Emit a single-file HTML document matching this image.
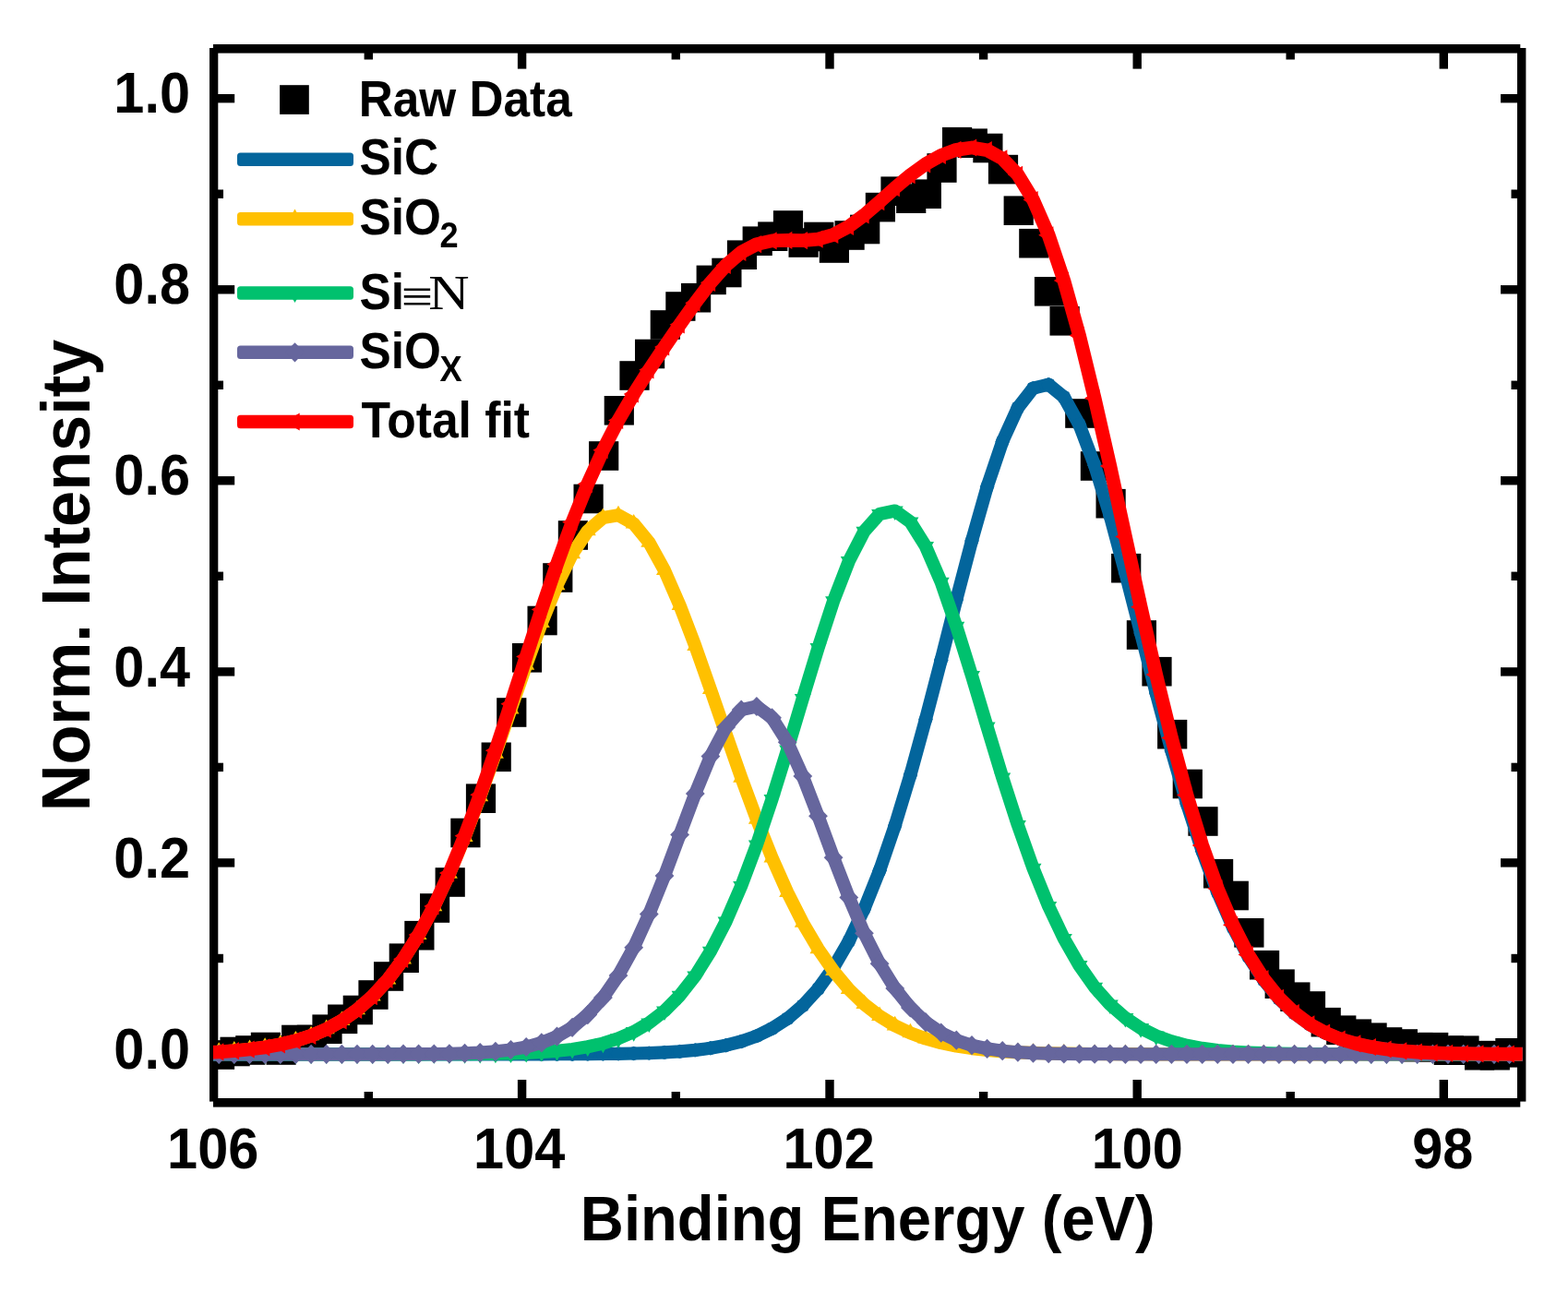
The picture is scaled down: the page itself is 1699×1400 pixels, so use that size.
<!DOCTYPE html>
<html lang="en"><head><meta charset="utf-8"><title>XPS Si 2p spectrum</title>
<style>html,body{margin:0;padding:0;background:#fff;overflow:hidden}svg{display:block}text{font-family:"Liberation Sans",sans-serif;font-weight:bold;fill:#000}.s{font-family:"Liberation Serif",serif;font-weight:normal}</style></head><body>
<svg width="1699" height="1400" viewBox="0 0 1699 1400">
<rect width="1699" height="1400" fill="#fff"/>
<defs><clipPath id="cp"><rect x="231.0" y="48.0" width="1418.5" height="1151.6"/></clipPath>
<marker id="m_sio2" markerUnits="userSpaceOnUse" markerWidth="24" markerHeight="24" refX="0" refY="0" viewBox="-12 -12 24 24" overflow="visible"><polygon points="0,-10.6 9,5 -9,5" fill="#ffc000"/></marker>
<marker id="m_sin" markerUnits="userSpaceOnUse" markerWidth="24" markerHeight="24" refX="0" refY="0" viewBox="-12 -12 24 24" overflow="visible"><polygon points="0,10.6 9,-5 -9,-5" fill="#00c16e"/></marker>
<marker id="m_siox" markerUnits="userSpaceOnUse" markerWidth="24" markerHeight="24" refX="0" refY="0" viewBox="-12 -12 24 24" overflow="visible"><polygon points="0,-10.6 10.4,0 0,10.6 -10.4,0" fill="#66669d"/></marker>
<marker id="m_tot" markerUnits="userSpaceOnUse" markerWidth="24" markerHeight="24" refX="0" refY="0" viewBox="-12 -12 24 24" overflow="visible"><polygon points="-11,0 5.2,-9.6 5.2,9.6" fill="#ff0000"/></marker>
<marker id="m_sic" markerUnits="userSpaceOnUse" markerWidth="24" markerHeight="24" refX="0" refY="0" viewBox="-12 -12 24 24" overflow="visible"><polygon points="0,-7.7 5.5,-5.5 7.7,0 5.5,5.5 0,7.7 -5.5,5.5 -7.7,0 -5.5,-5.5" fill="#03659c"/></marker>
</defs>
<g fill="#000">
<rect x="231.0" y="48.0" width="1416.3" height="9.6"/>
<rect x="231.0" y="1190.0" width="1416.3" height="9.6"/>
<rect x="227.0" y="52.0" width="9.3" height="1141.6"/>
<rect x="1644.0" y="52.0" width="9.4" height="1141.6"/>
<rect x="394.6" y="1183.0" width="9.4" height="8.0"/>
<rect x="394.6" y="56.6" width="9.4" height="7.9"/>
<rect x="560.9" y="1170.0" width="9.4" height="21.0"/>
<rect x="560.9" y="56.6" width="9.4" height="18.0"/>
<rect x="727.6" y="1183.0" width="9.4" height="8.0"/>
<rect x="727.6" y="56.6" width="9.4" height="7.9"/>
<rect x="894.3" y="1170.0" width="9.4" height="21.0"/>
<rect x="894.3" y="56.6" width="9.4" height="18.0"/>
<rect x="1060.9" y="1183.0" width="9.4" height="8.0"/>
<rect x="1060.9" y="56.6" width="9.4" height="7.9"/>
<rect x="1227.5" y="1170.0" width="9.4" height="21.0"/>
<rect x="1227.5" y="56.6" width="9.4" height="18.0"/>
<rect x="1393.5" y="1183.0" width="9.4" height="8.0"/>
<rect x="1393.5" y="56.6" width="9.4" height="7.9"/>
<rect x="1559.6" y="1170.0" width="9.4" height="21.0"/>
<rect x="1559.6" y="56.6" width="9.4" height="18.0"/>
<rect x="235.3" y="1137.3" width="18.9" height="9.4"/>
<rect x="1626.0" y="1137.3" width="19.0" height="9.4"/>
<rect x="235.3" y="1033.8" width="6.7" height="9.4"/>
<rect x="1637.5" y="1033.8" width="7.5" height="9.4"/>
<rect x="235.3" y="930.2" width="18.9" height="9.4"/>
<rect x="1626.0" y="930.2" width="19.0" height="9.4"/>
<rect x="235.3" y="826.7" width="6.7" height="9.4"/>
<rect x="1637.5" y="826.7" width="7.5" height="9.4"/>
<rect x="235.3" y="723.2" width="18.9" height="9.4"/>
<rect x="1626.0" y="723.2" width="19.0" height="9.4"/>
<rect x="235.3" y="619.6" width="6.7" height="9.4"/>
<rect x="1637.5" y="619.6" width="7.5" height="9.4"/>
<rect x="235.3" y="516.1" width="18.9" height="9.4"/>
<rect x="1626.0" y="516.1" width="19.0" height="9.4"/>
<rect x="235.3" y="412.6" width="6.7" height="9.4"/>
<rect x="1637.5" y="412.6" width="7.5" height="9.4"/>
<rect x="235.3" y="309.1" width="18.9" height="9.4"/>
<rect x="1626.0" y="309.1" width="19.0" height="9.4"/>
<rect x="235.3" y="205.5" width="6.7" height="9.4"/>
<rect x="1637.5" y="205.5" width="7.5" height="9.4"/>
<rect x="235.3" y="102.0" width="18.9" height="9.4"/>
<rect x="1626.0" y="102.0" width="19.0" height="9.4"/>
</g>
<g clip-path="url(#cp)">
<g fill="#000">
<rect x="221.9" y="1127.2" width="32.2" height="31.6"/>
<rect x="238.5" y="1123.7" width="32.2" height="31.6"/>
<rect x="255.2" y="1122.2" width="32.2" height="31.6"/>
<rect x="271.8" y="1118.7" width="32.2" height="31.6"/>
<rect x="288.5" y="1122.2" width="32.2" height="31.6"/>
<rect x="305.1" y="1110.7" width="32.2" height="31.6"/>
<rect x="321.8" y="1110.7" width="32.2" height="31.6"/>
<rect x="338.4" y="1099.4" width="32.2" height="31.6"/>
<rect x="355.1" y="1088.5" width="32.2" height="31.6"/>
<rect x="371.7" y="1078.7" width="32.2" height="31.6"/>
<rect x="388.4" y="1062.2" width="32.2" height="31.6"/>
<rect x="405.0" y="1042.2" width="32.2" height="31.6"/>
<rect x="421.7" y="1022.4" width="32.2" height="31.6"/>
<rect x="438.3" y="997.9" width="32.2" height="31.6"/>
<rect x="455.0" y="968.2" width="32.2" height="31.6"/>
<rect x="471.6" y="940.2" width="32.2" height="31.6"/>
<rect x="488.3" y="886.7" width="32.2" height="31.6"/>
<rect x="504.9" y="849.4" width="32.2" height="31.6"/>
<rect x="521.6" y="804.5" width="32.2" height="31.6"/>
<rect x="538.2" y="756.2" width="32.2" height="31.6"/>
<rect x="554.9" y="697.0" width="32.2" height="31.6"/>
<rect x="571.5" y="656.7" width="32.2" height="31.6"/>
<rect x="588.2" y="610.2" width="32.2" height="31.6"/>
<rect x="604.8" y="564.2" width="32.2" height="31.6"/>
<rect x="621.5" y="524.7" width="32.2" height="31.6"/>
<rect x="638.1" y="478.2" width="32.2" height="31.6"/>
<rect x="654.7" y="429.0" width="32.2" height="31.6"/>
<rect x="671.4" y="391.2" width="32.2" height="31.6"/>
<rect x="688.0" y="367.7" width="32.2" height="31.6"/>
<rect x="704.7" y="336.2" width="32.2" height="31.6"/>
<rect x="721.3" y="316.2" width="32.2" height="31.6"/>
<rect x="738.0" y="306.9" width="32.2" height="31.6"/>
<rect x="754.6" y="287.6" width="32.2" height="31.6"/>
<rect x="771.3" y="279.7" width="32.2" height="31.6"/>
<rect x="787.9" y="260.4" width="32.2" height="31.6"/>
<rect x="804.6" y="245.4" width="32.2" height="31.6"/>
<rect x="821.2" y="240.4" width="32.2" height="31.6"/>
<rect x="837.9" y="228.2" width="32.2" height="31.6"/>
<rect x="854.5" y="247.2" width="32.2" height="31.6"/>
<rect x="871.2" y="240.7" width="32.2" height="31.6"/>
<rect x="887.8" y="253.2" width="32.2" height="31.6"/>
<rect x="904.5" y="239.2" width="32.2" height="31.6"/>
<rect x="921.1" y="232.7" width="32.2" height="31.6"/>
<rect x="937.8" y="208.8" width="32.2" height="31.6"/>
<rect x="954.4" y="191.4" width="32.2" height="31.6"/>
<rect x="971.1" y="199.4" width="32.2" height="31.6"/>
<rect x="987.7" y="194.4" width="32.2" height="31.6"/>
<rect x="1004.4" y="166.2" width="32.2" height="31.6"/>
<rect x="1021.0" y="137.9" width="32.2" height="31.6"/>
<rect x="1037.7" y="139.4" width="32.2" height="31.6"/>
<rect x="1054.3" y="144.7" width="32.2" height="31.6"/>
<rect x="1070.9" y="167.8" width="32.2" height="31.6"/>
<rect x="1087.6" y="212.4" width="32.2" height="31.6"/>
<rect x="1104.2" y="247.9" width="32.2" height="31.6"/>
<rect x="1120.9" y="300.0" width="32.2" height="31.6"/>
<rect x="1137.5" y="332.0" width="32.2" height="31.6"/>
<rect x="1154.2" y="432.2" width="32.2" height="31.6"/>
<rect x="1170.8" y="489.2" width="32.2" height="31.6"/>
<rect x="1187.5" y="529.9" width="32.2" height="31.6"/>
<rect x="1204.1" y="599.9" width="32.2" height="31.6"/>
<rect x="1220.8" y="672.2" width="32.2" height="31.6"/>
<rect x="1237.4" y="711.9" width="32.2" height="31.6"/>
<rect x="1254.1" y="779.9" width="32.2" height="31.6"/>
<rect x="1270.7" y="833.7" width="32.2" height="31.6"/>
<rect x="1287.4" y="874.2" width="32.2" height="31.6"/>
<rect x="1304.0" y="930.9" width="32.2" height="31.6"/>
<rect x="1320.7" y="954.7" width="32.2" height="31.6"/>
<rect x="1337.3" y="995.0" width="32.2" height="31.6"/>
<rect x="1354.0" y="1029.9" width="32.2" height="31.6"/>
<rect x="1370.6" y="1050.4" width="32.2" height="31.6"/>
<rect x="1387.3" y="1064.4" width="32.2" height="31.6"/>
<rect x="1403.9" y="1074.2" width="32.2" height="31.6"/>
<rect x="1420.6" y="1091.9" width="32.2" height="31.6"/>
<rect x="1437.2" y="1100.4" width="32.2" height="31.6"/>
<rect x="1453.9" y="1104.4" width="32.2" height="31.6"/>
<rect x="1470.5" y="1108.4" width="32.2" height="31.6"/>
<rect x="1487.1" y="1113.2" width="32.2" height="31.6"/>
<rect x="1503.8" y="1115.2" width="32.2" height="31.6"/>
<rect x="1520.4" y="1118.9" width="32.2" height="31.6"/>
<rect x="1537.1" y="1118.9" width="32.2" height="31.6"/>
<rect x="1553.7" y="1122.4" width="32.2" height="31.6"/>
<rect x="1570.4" y="1122.4" width="32.2" height="31.6"/>
<rect x="1587.0" y="1127.9" width="32.2" height="31.6"/>
<rect x="1603.7" y="1127.9" width="32.2" height="31.6"/>
<rect x="1620.3" y="1125.0" width="32.2" height="31.6"/>
</g>
<g fill="none" stroke-width="14.2" stroke-linejoin="round" stroke-linecap="butt">
<path d="M220.6,1142.3 L237.2,1142.3 L253.8,1142.3 L270.5,1142.3 L287.1,1142.3 L303.8,1142.3 L320.4,1142.3 L337.1,1142.3 L353.7,1142.3 L370.4,1142.3 L387.0,1142.3 L403.7,1142.3 L420.3,1142.3 L437.0,1142.3 L453.6,1142.3 L470.3,1142.3 L486.9,1142.3 L503.6,1142.3 L520.2,1142.3 L536.9,1142.3 L553.5,1142.3 L570.2,1142.3 L586.8,1142.3 L603.5,1142.2 L620.1,1142.2 L636.8,1142.1 L653.4,1142.0 L670.0,1141.8 L686.7,1141.5 L703.3,1141.1 L720.0,1140.4 L736.6,1139.4 L753.3,1137.9 L769.9,1135.8 L786.6,1132.7 L803.2,1128.5 L819.9,1122.6 L836.5,1114.5 L853.2,1103.8 L869.8,1089.7 L886.5,1071.5 L903.1,1048.5 L919.8,1019.8 L936.4,984.8 L953.1,943.2 L969.7,894.7 L986.4,839.8 L1003.0,779.4 L1019.7,715.3 L1036.3,649.8 L1053.0,586.0 L1069.6,527.6 L1086.2,478.4 L1102.9,441.8 L1119.5,420.7 L1136.2,416.7 L1152.8,430.3 L1169.5,460.3 L1186.1,504.3 L1202.8,559.0 L1219.4,620.8 L1236.1,686.0 L1252.7,751.1 L1269.4,813.4 L1286.0,870.9 L1302.7,922.3 L1319.3,967.0 L1336.0,1004.9 L1352.6,1036.4 L1369.3,1061.9 L1385.9,1082.2 L1402.6,1098.0 L1419.2,1110.1 L1435.9,1119.3 L1452.5,1126.1 L1469.2,1131.0 L1485.8,1134.5 L1502.4,1137.1 L1519.1,1138.8 L1535.7,1140.0 L1552.4,1140.8 L1569.0,1141.3 L1585.7,1141.7 L1602.3,1141.9 L1619.0,1142.1 L1635.6,1142.2 L1652.3,1142.2" stroke="#03659c" marker-start="url(#m_sic)" marker-mid="url(#m_sic)" marker-end="url(#m_sic)"/>
<path d="M220.6,1140.6 L237.2,1139.8 L253.8,1138.6 L270.5,1137.0 L287.1,1134.8 L303.8,1131.8 L320.4,1127.7 L337.1,1122.3 L353.7,1115.2 L370.4,1106.0 L387.0,1094.3 L403.7,1079.6 L420.3,1061.5 L437.0,1039.4 L453.6,1013.1 L470.3,982.2 L486.9,946.8 L503.6,906.9 L520.2,863.2 L536.9,816.7 L553.5,768.6 L570.2,720.7 L586.8,675.1 L603.5,634.2 L620.1,600.2 L636.8,575.3 L653.4,561.0 L670.0,558.3 L686.7,567.5 L703.3,587.8 L720.0,618.0 L736.6,656.1 L753.3,699.9 L769.9,747.0 L786.6,795.2 L803.2,842.7 L819.9,887.8 L836.5,929.4 L853.2,966.9 L869.8,999.8 L886.5,1028.2 L903.1,1052.1 L919.8,1072.0 L936.4,1088.1 L953.1,1101.1 L969.7,1111.4 L986.4,1119.3 L1003.0,1125.5 L1019.7,1130.1 L1036.3,1133.6 L1053.0,1136.1 L1069.6,1138.0 L1086.2,1139.3 L1102.9,1140.3 L1119.5,1140.9 L1136.2,1141.4 L1152.8,1141.7 L1169.5,1141.9 L1186.1,1142.0 L1202.8,1142.1 L1219.4,1142.2 L1236.1,1142.2 L1252.7,1142.3 L1269.4,1142.3 L1286.0,1142.3 L1302.7,1142.3 L1319.3,1142.3 L1336.0,1142.3 L1352.6,1142.3 L1369.3,1142.3 L1385.9,1142.3 L1402.6,1142.3 L1419.2,1142.3 L1435.9,1142.3 L1452.5,1142.3 L1469.2,1142.3 L1485.8,1142.3 L1502.4,1142.3 L1519.1,1142.3 L1535.7,1142.3 L1552.4,1142.3 L1569.0,1142.3 L1585.7,1142.3 L1602.3,1142.3 L1619.0,1142.3 L1635.6,1142.3 L1652.3,1142.3" stroke="#ffc000" marker-start="url(#m_sio2)" marker-mid="url(#m_sio2)" marker-end="url(#m_sio2)"/>
<path d="M220.6,1142.3 L237.2,1142.3 L253.8,1142.3 L270.5,1142.3 L287.1,1142.3 L303.8,1142.3 L320.4,1142.3 L337.1,1142.3 L353.7,1142.3 L370.4,1142.3 L387.0,1142.3 L403.7,1142.3 L420.3,1142.3 L437.0,1142.3 L453.6,1142.3 L470.3,1142.2 L486.9,1142.2 L503.6,1142.1 L520.2,1141.9 L536.9,1141.7 L553.5,1141.4 L570.2,1140.8 L586.8,1140.0 L603.5,1138.8 L620.1,1137.0 L636.8,1134.3 L653.4,1130.6 L670.0,1125.3 L686.7,1118.1 L703.3,1108.4 L720.0,1095.5 L736.6,1078.7 L753.3,1057.4 L769.9,1030.8 L786.6,998.4 L803.2,960.0 L819.9,915.6 L836.5,866.0 L853.2,812.4 L869.8,756.9 L886.5,702.1 L903.1,651.3 L919.8,608.1 L936.4,575.8 L953.1,557.0 L969.7,553.5 L986.4,565.6 L1003.0,592.1 L1019.7,630.8 L1036.3,678.7 L1053.0,732.1 L1069.6,787.6 L1086.2,842.4 L1102.9,894.0 L1119.5,940.8 L1136.2,982.0 L1152.8,1017.0 L1169.5,1046.1 L1186.1,1069.8 L1202.8,1088.5 L1219.4,1103.0 L1236.1,1114.1 L1252.7,1122.4 L1269.4,1128.4 L1286.0,1132.8 L1302.7,1135.9 L1319.3,1138.0 L1336.0,1139.5 L1352.6,1140.5 L1369.3,1141.2 L1385.9,1141.6 L1402.6,1141.9 L1419.2,1142.0 L1435.9,1142.1 L1452.5,1142.2 L1469.2,1142.2 L1485.8,1142.3 L1502.4,1142.3 L1519.1,1142.3 L1535.7,1142.3 L1552.4,1142.3 L1569.0,1142.3 L1585.7,1142.3 L1602.3,1142.3 L1619.0,1142.3 L1635.6,1142.3 L1652.3,1142.3" stroke="#00c16e" marker-start="url(#m_sin)" marker-mid="url(#m_sin)" marker-end="url(#m_sin)"/>
<path d="M220.6,1142.3 L237.2,1142.3 L253.8,1142.3 L270.5,1142.3 L287.1,1142.3 L303.8,1142.3 L320.4,1142.3 L337.1,1142.3 L353.7,1142.3 L370.4,1142.3 L387.0,1142.3 L403.7,1142.3 L420.3,1142.3 L437.0,1142.2 L453.6,1142.1 L470.3,1142.0 L486.9,1141.8 L503.6,1141.3 L520.2,1140.6 L536.9,1139.4 L553.5,1137.5 L570.2,1134.5 L586.8,1129.9 L603.5,1123.1 L620.1,1113.3 L636.8,1099.6 L653.4,1081.1 L670.0,1057.0 L686.7,1026.7 L703.3,990.4 L720.0,949.0 L736.6,904.4 L753.3,859.9 L769.9,819.6 L786.6,788.0 L803.2,769.1 L819.9,765.5 L836.5,777.8 L853.2,804.2 L869.8,841.1 L886.5,884.3 L903.1,929.3 L919.8,972.4 L936.4,1011.2 L953.1,1044.2 L969.7,1071.0 L986.4,1091.9 L1003.0,1107.7 L1019.7,1119.1 L1036.3,1127.2 L1053.0,1132.7 L1069.6,1136.3 L1086.2,1138.7 L1102.9,1140.2 L1119.5,1141.1 L1136.2,1141.6 L1152.8,1141.9 L1169.5,1142.1 L1186.1,1142.2 L1202.8,1142.2 L1219.4,1142.3 L1236.1,1142.3 L1252.7,1142.3 L1269.4,1142.3 L1286.0,1142.3 L1302.7,1142.3 L1319.3,1142.3 L1336.0,1142.3 L1352.6,1142.3 L1369.3,1142.3 L1385.9,1142.3 L1402.6,1142.3 L1419.2,1142.3 L1435.9,1142.3 L1452.5,1142.3 L1469.2,1142.3 L1485.8,1142.3 L1502.4,1142.3 L1519.1,1142.3 L1535.7,1142.3 L1552.4,1142.3 L1569.0,1142.3 L1585.7,1142.3 L1602.3,1142.3 L1619.0,1142.3 L1635.6,1142.3 L1652.3,1142.3" stroke="#66669d" marker-start="url(#m_siox)" marker-mid="url(#m_siox)" marker-end="url(#m_siox)"/>
<path d="M220.6,1140.6 L237.2,1139.8 L253.8,1138.6 L270.5,1137.0 L287.1,1134.8 L303.8,1131.8 L320.4,1127.7 L337.1,1122.3 L353.7,1115.2 L370.4,1106.0 L387.0,1094.3 L403.7,1079.6 L420.3,1061.4 L437.0,1039.3 L453.6,1012.9 L470.3,981.9 L486.9,946.1 L503.6,905.7 L520.2,861.2 L536.9,813.2 L553.5,762.8 L570.2,711.4 L586.8,660.4 L603.5,611.4 L620.1,565.7 L636.8,524.4 L653.4,487.7 L670.0,455.5 L686.7,426.9 L703.3,400.8 L720.0,376.0 L736.6,351.8 L753.3,328.2 L769.9,306.3 L786.6,287.5 L803.2,273.4 L819.9,264.6 L836.5,260.9 L853.2,260.4 L869.8,260.7 L886.5,259.2 L903.1,254.3 L919.8,245.4 L936.4,233.0 L953.1,218.6 L969.7,203.7 L986.4,189.7 L1003.0,177.8 L1019.7,168.4 L1036.3,162.3 L1053.0,160.0 L1069.6,162.7 L1086.2,171.9 L1102.9,189.3 L1119.5,216.6 L1136.2,254.8 L1152.8,304.0 L1169.5,363.5 L1186.1,431.4 L1202.8,505.0 L1219.4,581.4 L1236.1,657.7 L1252.7,731.1 L1269.4,799.5 L1286.0,861.4 L1302.7,915.9 L1319.3,962.8 L1336.0,1002.2 L1352.6,1034.6 L1369.3,1060.7 L1385.9,1081.4 L1402.6,1097.5 L1419.2,1109.9 L1435.9,1119.1 L1452.5,1126.0 L1469.2,1130.9 L1485.8,1134.5 L1502.4,1137.0 L1519.1,1138.8 L1535.7,1140.0 L1552.4,1140.8 L1569.0,1141.3 L1585.7,1141.7 L1602.3,1141.9 L1619.0,1142.1 L1635.6,1142.2 L1652.3,1142.2" stroke="#ff0000" stroke-width="14.8" marker-start="url(#m_tot)" marker-mid="url(#m_tot)" marker-end="url(#m_tot)"/>
</g>
</g>
<text transform="translate(230.7,1265.5) scale(0.95,1)" font-size="62.6" text-anchor="middle">106</text>
<text transform="translate(562.7,1265.5) scale(0.95,1)" font-size="62.6" text-anchor="middle">104</text>
<text transform="translate(898.1,1265.5) scale(0.95,1)" font-size="62.6" text-anchor="middle">102</text>
<text transform="translate(1232.3,1265.5) scale(0.95,1)" font-size="62.6" text-anchor="middle">100</text>
<text transform="translate(1563.3,1265.5) scale(0.95,1)" font-size="62.6" text-anchor="middle">98</text>
<text transform="translate(206.0,1157.6) scale(0.95,1)" font-size="62.6" text-anchor="end">0.0</text>
<text transform="translate(206.0,950.5) scale(0.95,1)" font-size="62.6" text-anchor="end">0.2</text>
<text transform="translate(206.0,743.5) scale(0.95,1)" font-size="62.6" text-anchor="end">0.4</text>
<text transform="translate(206.0,536.4) scale(0.95,1)" font-size="62.6" text-anchor="end">0.6</text>
<text transform="translate(206.0,329.4) scale(0.95,1)" font-size="62.6" text-anchor="end">0.8</text>
<text transform="translate(206.0,122.3) scale(0.95,1)" font-size="62.6" text-anchor="end">1.0</text>
<text transform="translate(940.3,1343.8) scale(0.941,1)" font-size="69.3" text-anchor="middle">Binding Energy (eV)</text>
<text transform="translate(97,623.6) rotate(-90) scale(0.96,1)" font-size="73.2" text-anchor="middle">Norm. Intensity</text>
<rect x="303.1" y="92.2" width="31.7" height="31.7" fill="#000"/>
<text transform="translate(388.7,125.8) scale(0.93,1)" font-size="55.2" text-anchor="start">Raw Data</text>
<rect x="257" y="165.5" width="126" height="14.6" rx="3.5" ry="3.5" fill="#03659c"/>
<text transform="translate(389.5,189.3) scale(0.93,1)" font-size="55.2" text-anchor="start">SiC</text>
<rect x="257" y="229.9" width="126" height="14.6" rx="3.5" ry="3.5" fill="#ffc000"/>
<polygon transform="translate(319.5,237.2)" points="0,-10.6 9,5 -9,5" fill="#ffc000"/>
<text transform="translate(389.5,253.6) scale(0.93,1)" font-size="55.2" text-anchor="start">SiO<tspan font-size="39" dy="14.5" dx="-1.5">2</tspan></text>
<rect x="257" y="310.2" width="126" height="14.6" rx="3.5" ry="3.5" fill="#00c16e"/>
<polygon transform="translate(319.5,317.5)" points="0,10.6 9,-5 -9,-5" fill="#00c16e"/>
<text transform="translate(389.5,335) scale(0.93,1)" font-size="55.2" text-anchor="start">Si</text>
<text transform="translate(435.0,339.0) scale(1.15,1)" font-size="53" text-anchor="start" class="s">≡</text>
<text transform="translate(464.2,335.0) scale(1.14,1)" font-size="53.8" text-anchor="start" class="s">N</text>
<rect x="257" y="374.5" width="126" height="14.6" rx="3.5" ry="3.5" fill="#66669d"/>
<polygon transform="translate(319.5,381.8)" points="0,-10.6 10.4,0 0,10.6 -10.4,0" fill="#66669d"/>
<text transform="translate(389.5,399) scale(0.93,1)" font-size="55.2" text-anchor="start">SiO<tspan font-size="39" dy="13.5" dx="-1.5">X</tspan></text>
<rect x="257" y="449.7" width="126" height="14.6" rx="3.5" ry="3.5" fill="#ff0000"/>
<polygon transform="translate(319.5,457)" points="-11,0 5.2,-9.6 5.2,9.6" fill="#ff0000"/>
<text transform="translate(391.5,474.4) scale(0.935,1)" font-size="55.2" text-anchor="start">Total fit</text>
</svg></body></html>
